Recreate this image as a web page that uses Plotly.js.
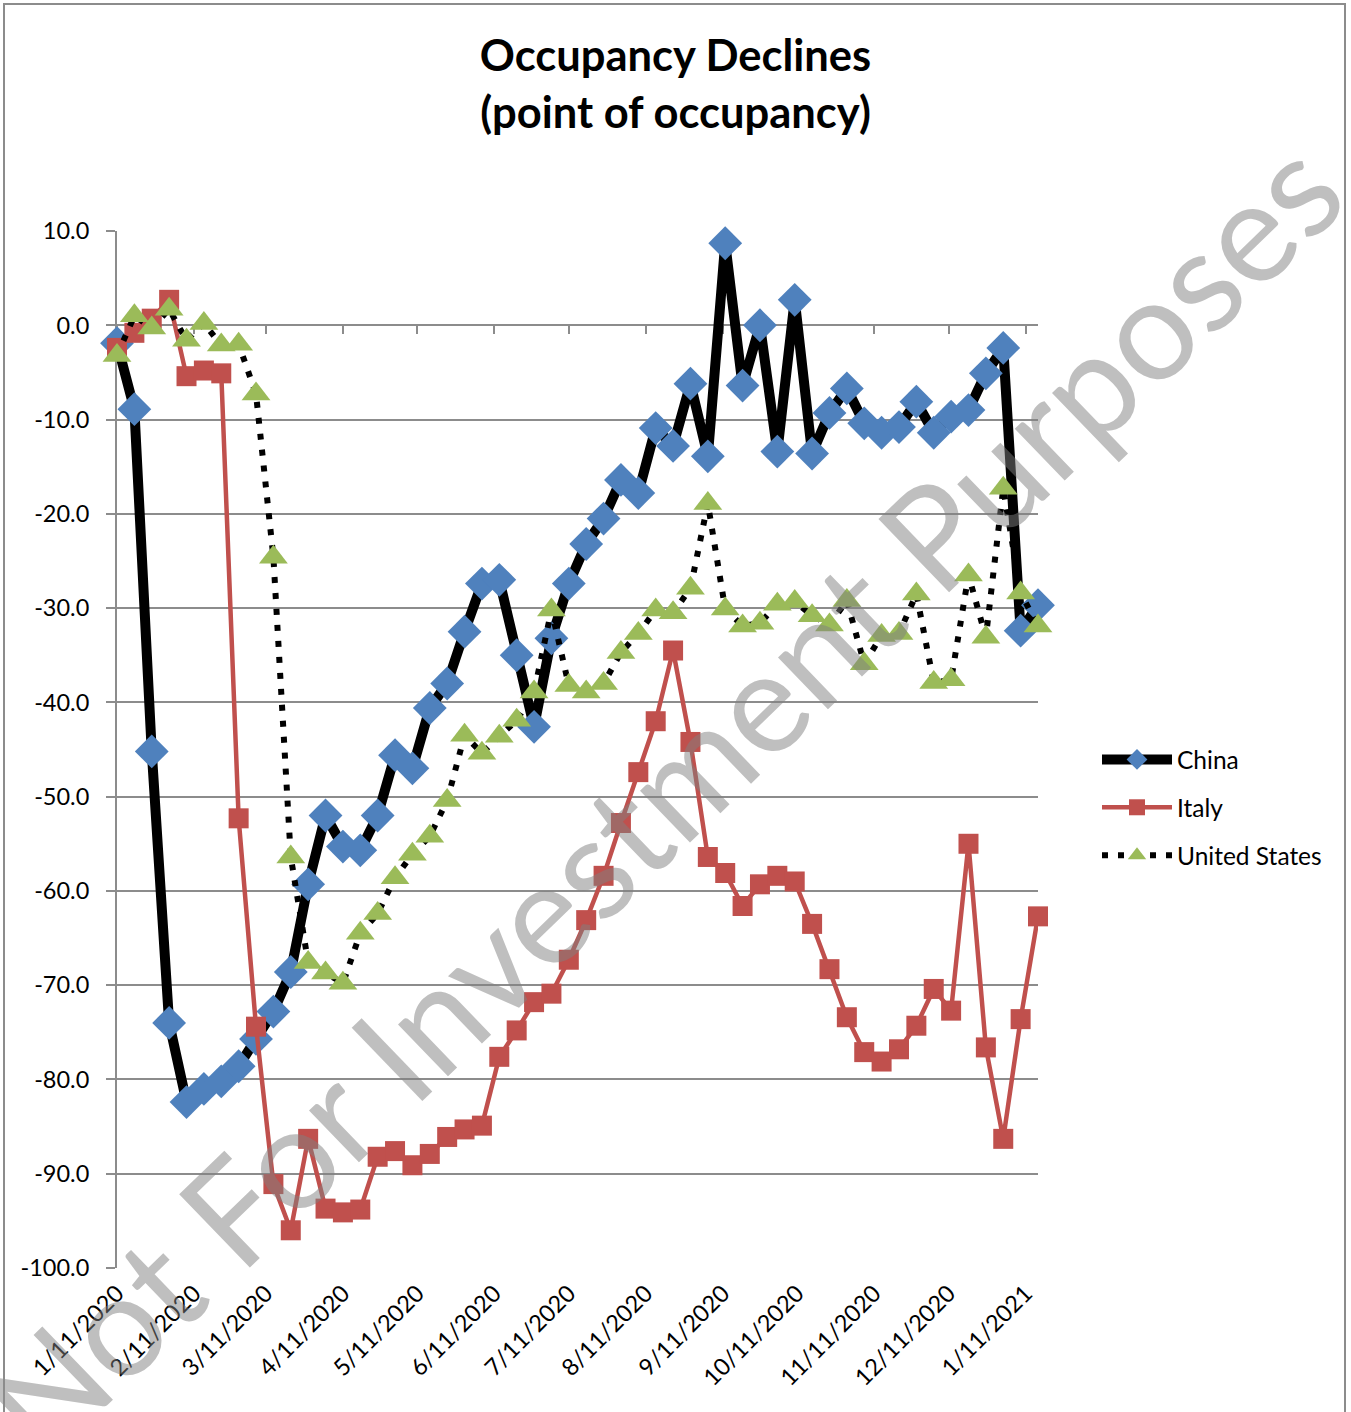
<!DOCTYPE html>
<html>
<head>
<meta charset="utf-8">
<script src="https://cdn.plot.ly/plotly-3.0.1.min.js"></script>
<style>
  html, body { margin: 0; padding: 0; background: #fff; }
  #wrap { position: relative; width: 1351px; height: 1412px; }
  #chart { width: 1351px; height: 1412px; }
  #frame { position: absolute; left: 3px; top: 3px; width: 1343px; height: 1415px;
           border: 2px solid #8c8c8c; pointer-events: none; box-sizing: border-box; }
</style>
</head>
<body>
<div id="wrap"><div id="chart"></div><div id="frame"></div></div>
<script>
// ---- data ----
const weeks = [
  '2020-01-11','2020-01-18','2020-01-25','2020-02-01','2020-02-08','2020-02-15','2020-02-22','2020-02-29',
  '2020-03-07','2020-03-14','2020-03-21','2020-03-28','2020-04-04','2020-04-11','2020-04-18','2020-04-25',
  '2020-05-02','2020-05-09','2020-05-16','2020-05-23','2020-05-30','2020-06-06','2020-06-13','2020-06-20',
  '2020-06-27','2020-07-04','2020-07-11','2020-07-18','2020-07-25','2020-08-01','2020-08-08','2020-08-15',
  '2020-08-22','2020-08-29','2020-09-05','2020-09-12','2020-09-19','2020-09-26','2020-10-03','2020-10-10',
  '2020-10-17','2020-10-24','2020-10-31','2020-11-07','2020-11-14','2020-11-21','2020-11-28','2020-12-05',
  '2020-12-12','2020-12-19','2020-12-26','2021-01-02','2021-01-09','2021-01-16'
];
const china = [-1.9,-8.9,-45.2,-74.0,-82.4,-81.0,-80.2,-78.6,-75.7,-72.8,-68.6,-59.3,-52.0,-55.3,-55.7,-52.0,
  -45.6,-47.0,-40.6,-38.0,-32.5,-27.4,-27.0,-35.0,-42.6,-33.2,-27.4,-23.2,-20.5,-16.4,-17.8,-10.9,
  -12.8,-6.2,-13.9,8.7,-6.4,0.0,-13.4,2.7,-13.6,-9.3,-6.7,-10.4,-11.4,-10.8,-8.1,-11.4,
  -9.7,-9.0,-5.1,-2.4,-32.4,-29.7];
const italy = [-2.4,-0.8,0.7,2.7,-5.4,-4.8,-5.1,-52.3,-74.4,-91.1,-96.0,-86.3,-93.7,-94.1,-93.8,-88.2,
  -87.6,-89.1,-87.9,-86.1,-85.3,-84.9,-77.6,-74.8,-71.8,-70.9,-67.3,-63.1,-58.4,-52.8,-47.4,-42.0,
  -34.5,-44.2,-56.4,-58.1,-61.6,-59.3,-58.4,-59.0,-63.5,-68.3,-73.4,-77.1,-78.1,-76.8,-74.3,-70.4,
  -72.7,-55.0,-76.6,-86.3,-73.6,-62.7];
const unitedStates = [-3.2,1.0,-0.3,1.7,-1.6,0.2,-2.1,-2.0,-7.3,-24.6,-56.4,-67.6,-68.7,-69.8,-64.5,-62.4,
  -58.6,-56.1,-54.2,-50.4,-43.5,-45.4,-43.6,-41.9,-38.9,-30.2,-38.2,-38.9,-38.0,-34.7,-32.7,-30.2,
  -30.5,-27.9,-18.9,-30.1,-31.9,-31.6,-29.6,-29.3,-30.8,-31.8,-29.2,-35.9,-32.9,-32.7,-28.5,-37.9,
  -37.6,-26.5,-33.1,-17.3,-28.4,-31.9];
const seriesNames = ['China', 'Italy', 'United States'];
const xTickVals = ['2020-01-11','2020-02-11','2020-03-11','2020-04-11','2020-05-11','2020-06-11','2020-07-11',
  '2020-08-11','2020-09-11','2020-10-11','2020-11-11','2020-12-11','2021-01-11'];
const xTickText = ['1/11/2020','2/11/2020','3/11/2020','4/11/2020','5/11/2020','6/11/2020','7/11/2020',
  '8/11/2020','9/11/2020','10/11/2020','11/11/2020','12/11/2020','1/11/2021'];
const yTickVals = [10,0,-10,-20,-30,-40,-50,-60,-70,-80,-90,-100];
const yTickText = ['10.0','0.0','-10.0','-20.0','-30.0','-40.0','-50.0','-60.0','-70.0','-80.0','-90.0','-100.0'];
const chartTitle = 'Occupancy Declines<br>(point of occupancy)';
const watermark = 'Not For Investment Purposes';

// ---- layout geometry ----
const W = 1351, H = 1412;
const M = {l: 117, r: 313, t: 231, b: 144};
const plotW = W - M.l - M.r, plotH = H - M.t - M.b;
const px2x = px => (px - M.l) / plotW;
const py2y = py => (H - M.b - py) / plotH;

const FONT = 'Lato, "Liberation Sans", Arial, sans-serif';
const GRID = '#8c8c8c';

const traces = [
  { x: weeks, y: china, name: seriesNames[0], type: 'scatter', mode: 'lines+markers',
    line: {color: '#000000', width: 10}, legendgroup: 'a',
    marker: {symbol: 'diamond', size: 26, color: '#4F81BD', line: {width: 0}}, cliponaxis: false },
  { x: weeks, y: italy, name: seriesNames[1], type: 'scatter', mode: 'lines+markers',
    line: {color: '#C0504D', width: 4.5}, legendgroup: 'b',
    marker: {symbol: 'square', size: 20, color: '#C0504D', line: {width: 0}}, cliponaxis: false },
  { x: weeks, y: unitedStates, name: seriesNames[2], type: 'scatter', mode: 'lines+markers',
    line: {color: '#000000', width: 6, dash: '6px,10px'}, legendgroup: 'c',
    marker: {symbol: 'triangle-up', size: 25, color: '#9BBB59', line: {width: 0}}, cliponaxis: false },
  { x: [], y: [], xaxis: 'x2', yaxis: 'y', showlegend: false, hoverinfo: 'skip', type: 'scatter', mode: 'lines' }
];

const layout = {
  width: W, height: H,
  margin: M,
  paper_bgcolor: '#ffffff', plot_bgcolor: '#ffffff',
  font: {family: FONT, size: 23, color: '#000'},
  showlegend: true,
  title: {
    text: '<b>' + chartTitle + '</b>',
    font: {family: FONT, size: 43.5, color: '#000'},
    xref: 'container', x: 0.5, xanchor: 'center',
    yref: 'container', y: 1 - 71 / H, yanchor: 'top'
  },
  xaxis: {
    type: 'date', range: [weeks[0], weeks[weeks.length - 1]],
    tickmode: 'array', tickvals: xTickVals, ticktext: xTickText,
    tickangle: -45, ticks: '', showgrid: false, zeroline: false, showline: false,
    tickfont: {family: FONT, size: 23.5, color: '#000'}, ticklabelstandoff: 6,
    fixedrange: true
  },
  xaxis2: {
    type: 'date', overlaying: 'x', anchor: 'free', position: 100 / 110,
    range: [weeks[0], weeks[weeks.length - 1]],
    tickmode: 'array', tickvals: xTickVals, showticklabels: false,
    ticks: 'outside', ticklen: 8, tickwidth: 2, tickcolor: GRID,
    showline: true, linecolor: GRID, linewidth: 2, showgrid: false, zeroline: false,
    layer: 'below traces'
  },
  yaxis: {
    range: [-100, 10], tickmode: 'array', tickvals: yTickVals, ticktext: yTickText,
    showgrid: true, gridcolor: GRID, gridwidth: 2, zeroline: false,
    showline: true, linecolor: GRID, linewidth: 2,
    ticks: 'outside', ticklen: 9, tickwidth: 2, tickcolor: GRID,
    tickfont: {family: FONT, size: 23.5, color: '#000'}, ticklabelstandoff: 12,
    layer: 'below traces', fixedrange: true
  },
  legend: {
    x: px2x(1097), xanchor: 'left', y: py2y(737), yanchor: 'top',
    font: {family: FONT, size: 24.5, color: '#000'},
    bgcolor: 'rgba(0,0,0,0)', borderwidth: 0,
    traceorder: 'grouped', tracegroupgap: 13, itemwidth: 70
  },
  annotations: [{
    text: watermark, xref: 'paper', yref: 'paper',
    x: px2x(660), y: py2y(795), xanchor: 'center', yanchor: 'middle',
    showarrow: false, textangle: -44,
    font: {family: FONT, size: 142, color: 'rgba(128,128,128,0.5)'}
  }]
};

Plotly.newPlot('chart', traces, layout, {displayModeBar: false, staticPlot: true});
</script>
</body>
</html>
